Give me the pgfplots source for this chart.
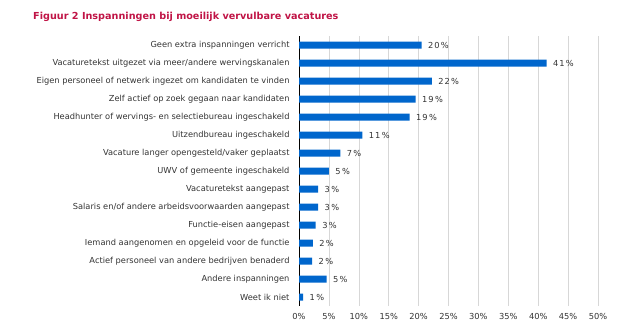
\documentclass[border=0pt]{standalone}
\usepackage{fontspec}
\setmainfont{DejaVu Sans}
\usepackage{pgfplots}
\pgfplotsset{compat=1.18}
\definecolor{barblue}{RGB}{0,102,204}
\definecolor{titlered}{RGB}{192,20,70}
\definecolor{txt}{RGB}{51,51,51}
\definecolor{gridc}{RGB}{215,215,215}
\begin{document}
\begin{tikzpicture}[x=1bp,y=1bp]
\path[use as bounding box] (0,0) rectangle (640,333);
\node[anchor=base west, font=\fontsize{9.7}{11}\selectfont\bfseries, text=titlered, inner sep=0] at (33,314) {Figuur 2 Inspanningen bij moeilijk vervulbare vacatures};
\begin{axis}[
  at={(299bp,27bp)}, anchor=south west, scale only axis,
  width=299bp, height=270bp,
  xbar, bar width=7bp,
  xmin=0, xmax=50, ymin=-0.5, ymax=14.5, y dir=reverse,
  axis y line*=left, axis x line*=bottom,
  x axis line style={draw=none},
  y axis line style={draw=black, line width=0.8pt},
  xtick={0,5,...,50},
  xticklabel={\pgfmathprintnumber{\tick}\%},
  /pgf/number format/assume math mode=true,
  xmajorgrids, grid style={draw=gridc, line width=0.6pt},
  major tick length=0pt,
  ytick={0,...,14},
  yticklabels={Geen extra inspanningen verricht,
    Vacaturetekst uitgezet via meer/andere wervingskanalen,
    Eigen personeel of netwerk ingezet om kandidaten te vinden,
    Zelf actief op zoek gegaan naar kandidaten,
    Headhunter of wervings- en selectiebureau ingeschakeld,
    Uitzendbureau ingeschakeld,
    Vacature langer opengesteld/vaker geplaatst,
    UWV of gemeente ingeschakeld,
    Vacaturetekst aangepast,
    Salaris en/of andere arbeidsvoorwaarden aangepast,
    Functie-eisen aangepast,
    Iemand aangenomen en opgeleid voor de functie,
    Actief personeel van andere bedrijven benaderd,
    Andere inspanningen,
    Weet ik niet},
  ticklabel style={font=\fontsize{8.3}{10}\selectfont, text=txt},
  yticklabel style={xshift=-6bp},
  xticklabel style={yshift=-4bp},
  point meta=explicit symbolic,
  nodes near coords={\pgfplotspointmeta\,\%},
  nodes near coords style={anchor=west, xshift=3bp, font=\fontsize{8.3}{10}\selectfont\addfontfeatures{LetterSpace=12}, text=txt},
  clip=false,
]
\addplot[fill=barblue, draw=none] coordinates {
  (20.5,0) [20]
  (41.4,1) [41]
  (22.2,2) [22]
  (19.5,3) [19]
  (18.5,4) [19]
  (10.6,5) [11]
  (6.9,6) [7]
  (5.0,7) [5]
  (3.2,8) [3]
  (3.2,9) [3]
  (2.8,10) [3]
  (2.3,11) [2]
  (2.2,12) [2]
  (4.6,13) [5]
  (0.7,14) [1]
};
\end{axis}
\end{tikzpicture}
\end{document}
